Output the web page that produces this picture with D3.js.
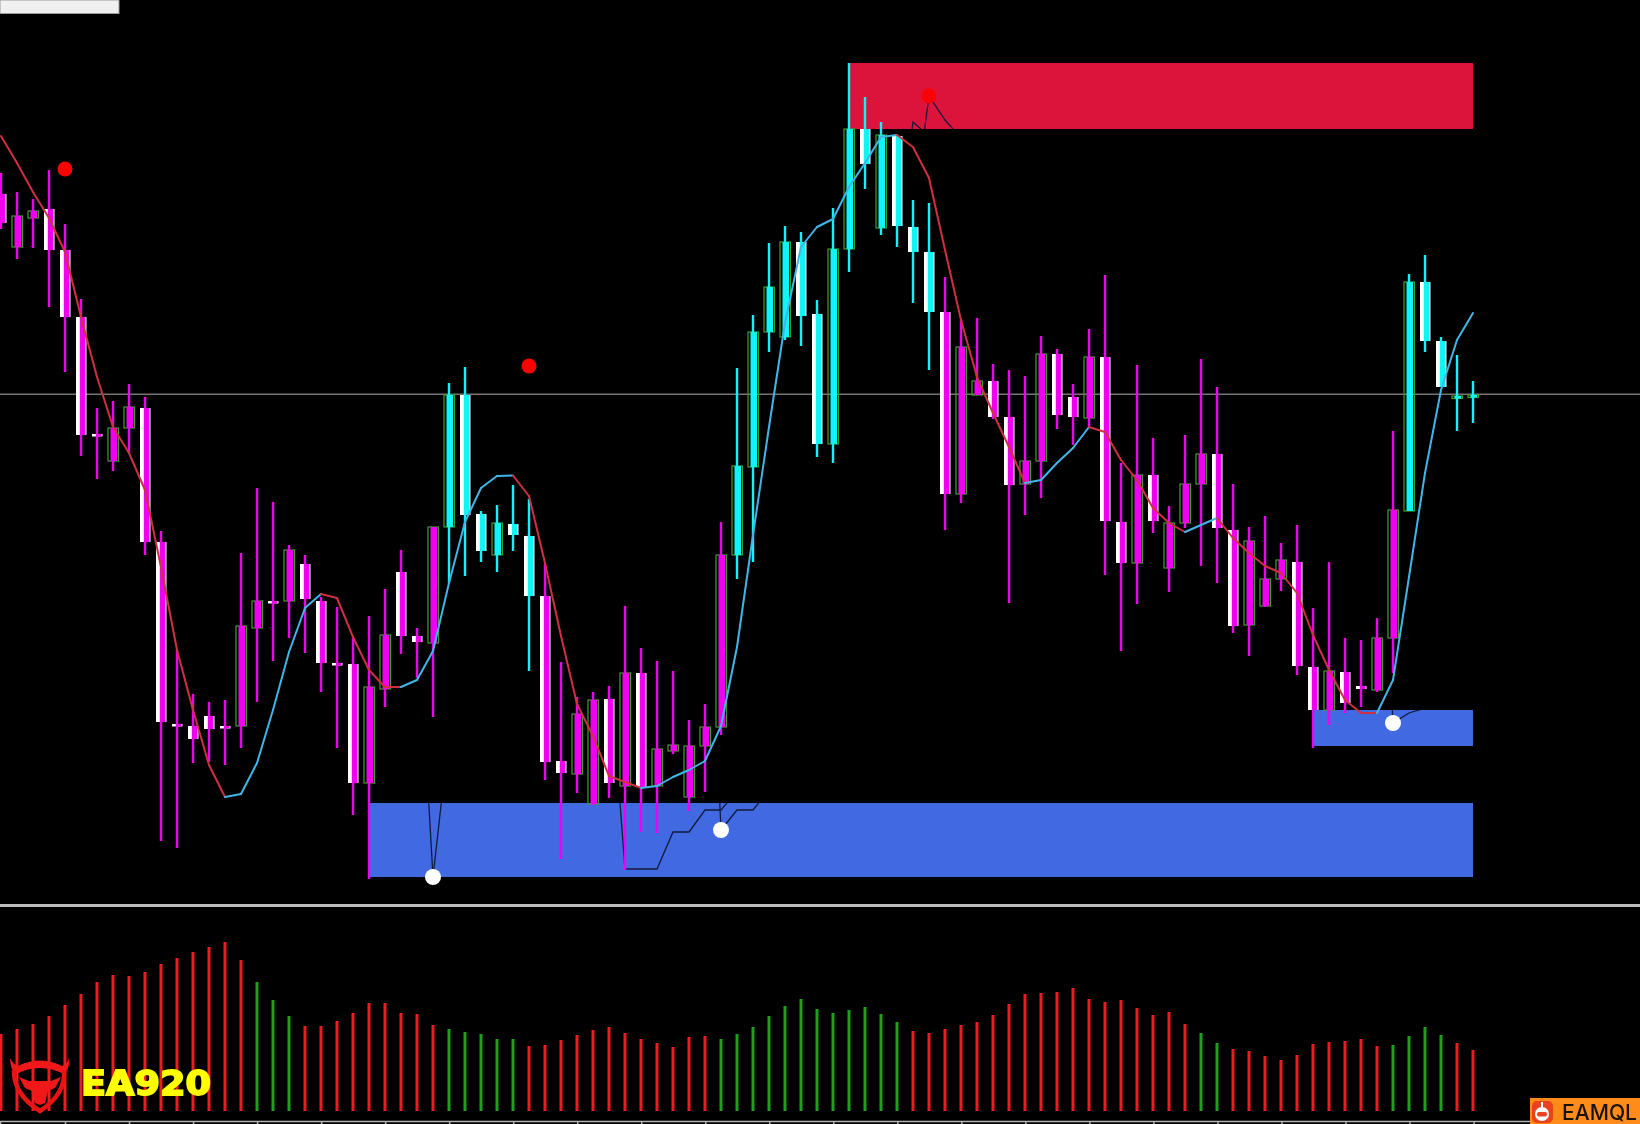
<html>
<head>
<meta charset="utf-8">
<title>EA920</title>
<style>
  body { margin: 0; background: #000; }
  svg { display: block; filter: blur(0.45px); }
</style>
</head>
<body>
<script src="https://cdn.jsdelivr.net/npm/d3@7/dist/d3.min.js"></script>
<script>

var width = 1640;
var height = 1124;

// candles, price in points
var opens = [686,633,662,671,630,563,446,419,452,472,338,156,154,164,154,154,252,279,279,316,279,217,216,97,191,308,244,237,353,485,
  366,325,356,344,284,119,106,76,181,94,207,94,129,83,134,153,325,413,548,543,638,566,436,631,751,652,744,653,628,568,
  386,485,499,463,396,419,526,483,462,523,358,317,405,312,357,396,426,350,255,274,301,318,213,170,208,194,190,242,369,598,539,483,484];
var closes = [657,664,669,630,563,445,444,452,473,338,158,154,141,151,153,254,279,278,330,281,217,215,97,193,245,244,238,353,485,365,
  329,357,345,284,118,107,166,180,97,207,93,131,135,134,153,325,414,548,593,638,564,436,631,751,716,745,654,628,568,386,
  533,499,463,395,419,526,465,463,523,359,317,405,359,357,396,426,352,254,339,301,320,214,170,209,177,191,242,370,598,539,493,484,485];
var highs = [707,688,681,710,656,581,472,479,496,483,349,230,186,178,180,327,392,378,335,325,283,273,242,264,291,330,252,353,497,513,
  369,375,395,381,316,218,183,188,194,274,232,219,209,160,176,358,512,565,637,654,648,580,672,817,783,758,745,680,677,603,
  560,562,516,510,504,544,531,496,551,605,417,515,442,374,445,521,493,396,353,364,337,355,272,318,242,240,262,449,606,625,543,525,499];
var lows = [651,621,632,573,508,424,401,409,427,325,39,32,117,118,115,132,178,219,242,227,188,132,65,1,173,226,202,163,297,304,
  318,308,329,209,100,21,87,75,82,10,48,47,126,69,88,145,301,318,528,540,534,423,417,608,691,645,633,577,510,350,
  377,485,461,277,365,382,451,435,453,305,229,276,347,288,352,314,297,247,224,273,289,205,132,155,167,173,188,207,369,528,493,449,457];

// candle index ranges where the inner body and wick change to the bullish colour
var bullPhases = [[28,33],[46,58],[88,92]];

// moving average, price in points
var maValues = [744,717,688,662,628,563,503,453,427,390,313,230,170,115,83,86,117,170,228,272,
  286,282,243,210,193,193,200,229,297,358,392,404,404.5,384,317,244,176,144,104,98,
  92,94,103,110,119,154,233,345,453,557,633,653,661,693,717,743,745,733,702,630,
  560,503,467,433,397,400,417,432,453,448,420,400,372,357,348,355,362,342,327,314,
  307,287,245,210,180,167,167,200,303,407,490,540,567];

// supply and demand zones
var zoneStart = [53,23,82];
var zoneTop = [817,77,170];
var zoneBottom = [751,3,134];
var zoneKind = ["supply","demand","demand"];

// stop line pieces, only seen where they cross a zone
var stopIndex = [[26,27,28],[38,39,40,41,42,43,44,45,46],[44,45,46,47,48],[56,57,57.7,58,59,60],[86,87,88,89]];
var stopValues = [[283,3,146],[222,11,11,11,48,48,70,70,89],[400,50,70,70,90],[640,758,748,784,760,742],[480,157,167,172]];

// signal dots
var sellIndex = [4,33,58];
var sellValues = [711,514,784];
var buyIndex = [27,45,87];
var buyValues = [3,50,157];

var priceLine = 485.7;

// lower panel
var histValues = [77,82,87,95,106,117,129,136,135,139,147,153,159,164,169,151,129,111,95,85,
  85,90,98,108,108,98,97,86,82,79,77,72,72,65,66,71,76,81,84,78,
  72,68,64,74,75,72,77,84,95,105,112,102,98,101,104,97,89,80,78,82,
  86,89,96,107,117,118,119,123,112,109,111,103,96,99,87,78,68,62,60,55,
  51,56,67,69,70,72,65,66,75,84,76,68,61];
var greenRanges = [[16,18],[28,32],[45,56],[75,76],[87,90]];

var svg = d3.select("body").append("svg")
  .attr("width", width)
  .attr("height", height);

svg.append("rect").attr("width", width).attr("height", height).attr("fill", "#000");

var x = d3.scaleLinear().domain([0, 92]).range([1, 1473]);
var y = d3.scaleLinear().domain([0, 880]).range([880, 0]);
var h = d3.scaleLinear().domain([0, 200]).range([1111, 911]);

function inRanges(i, ranges) {
  return ranges.some(function(r) { return i >= r[0] && i <= r[1]; });
}

// little white box top left
svg.append("rect").attr("x", 0).attr("y", 0).attr("width", 119).attr("height", 13.5)
  .attr("fill", "#f0f0f0").attr("stroke", "#9a9a9a").attr("stroke-width", 1);

// zones
svg.selectAll(".zone").data(zoneStart).enter().append("rect")
  .attr("class", "zone")
  .attr("x", function(d) { return x(d) + 1; })
  .attr("y", function(d, i) { return y(zoneTop[i]); })
  .attr("width", function(d) { return x(92) - x(d) - 1; })
  .attr("height", function(d, i) { return y(zoneBottom[i]) - y(zoneTop[i]); })
  .attr("fill", function(d, i) { return zoneKind[i] == "supply" ? "#dc143c" : "#4169e1"; });

// stop lines are clipped to the zones
var clip = svg.append("clipPath").attr("id", "zoneClip");
clip.selectAll("rect").data(zoneStart).enter().append("rect")
  .attr("x", function(d) { return x(d); })
  .attr("y", function(d, i) { return y(zoneTop[i]); })
  .attr("width", function(d) { return x(92) - x(d); })
  .attr("height", function(d, i) { return y(zoneBottom[i]) - y(zoneTop[i]); });

var stopLine = d3.line()
  .x(function(d) { return x(d[0]); })
  .y(function(d) { return y(d[1]); });

svg.append("g").attr("clip-path", "url(#zoneClip)")
  .selectAll("path").data(stopIndex).enter().append("path")
  .attr("d", function(d, k) { return stopLine(d3.zip(d, stopValues[k])); })
  .attr("fill", "none")
  .attr("stroke", "#141a3c")
  .attr("stroke-width", 1.3);

// price line
svg.append("line")
  .attr("x1", 0).attr("x2", width)
  .attr("y1", y(priceLine)).attr("y2", y(priceLine))
  .attr("stroke", "#747474").attr("stroke-width", 1.5);

// candles
var candles = svg.append("g").selectAll("g").data(opens).enter().append("g");

function bodyTop(d, i) { return y(Math.max(d, closes[i])); }
function bodyHeight(d, i) { return Math.max(2.5, y(Math.min(d, closes[i])) - y(Math.max(d, closes[i]))); }
function isUp(d, i) { return closes[i] > d; }
function bullColor(d, i) { return inRanges(i, bullPhases) ? "#0ff5f5" : "#f000f0"; }

candles.append("rect")
  .attr("x", function(d, i) { return x(i) - 5; })
  .attr("y", bodyTop)
  .attr("width", 10.5)
  .attr("height", bodyHeight)
  .attr("fill", function(d, i) { return isUp(d, i) ? "none" : "#fff"; })
  .attr("stroke", function(d, i) { return isUp(d, i) ? "#3f9f2c" : "none"; })
  .attr("stroke-width", 1.2);

candles.append("line")
  .attr("x1", function(d, i) { return x(i); })
  .attr("x2", function(d, i) { return x(i); })
  .attr("y1", function(d, i) { return y(highs[i]); })
  .attr("y2", function(d, i) { return y(lows[i]); })
  .attr("stroke", bullColor)
  .attr("stroke-width", 2.4);

candles.append("rect")
  .attr("x", function(d, i) { return isUp(d, i) ? x(i) - 2.5 : x(i) - 1; })
  .attr("y", bodyTop)
  .attr("width", function(d, i) { return isUp(d, i) ? 6.5 : 5.5; })
  .attr("height", bodyHeight)
  .attr("fill", bullColor);

// moving average, one segment per bar, blue going up and red going down
svg.append("g").selectAll("line").data(d3.pairs(maValues)).enter().append("line")
  .attr("x1", function(d, i) { return x(i); })
  .attr("x2", function(d, i) { return x(i + 1); })
  .attr("y1", function(d) { return y(d[0]); })
  .attr("y2", function(d) { return y(d[1]); })
  .attr("stroke", function(d) { return d[1] > d[0] ? "#3fb6e8" : "#cf3040"; })
  .attr("stroke-width", 2)
  .attr("stroke-linecap", "round");

// dots
svg.selectAll(".sell").data(sellIndex).enter().append("circle")
  .attr("class", "sell")
  .attr("cx", function(d) { return x(d); })
  .attr("cy", function(d, i) { return y(sellValues[i]); })
  .attr("r", 7.5)
  .attr("fill", "#ff0000");

svg.selectAll(".buy").data(buyIndex).enter().append("circle")
  .attr("class", "buy")
  .attr("cx", function(d) { return x(d); })
  .attr("cy", function(d, i) { return y(buyValues[i]); })
  .attr("r", 8)
  .attr("fill", "#fff");

// panel separator
svg.append("rect").attr("x", 0).attr("y", 904).attr("width", width).attr("height", 3).attr("fill", "#bcbcbc");

// histogram
svg.append("g").selectAll("line").data(histValues).enter().append("line")
  .attr("x1", function(d, i) { return x(i); })
  .attr("x2", function(d, i) { return x(i); })
  .attr("y1", h(0))
  .attr("y2", function(d) { return h(d); })
  .attr("stroke", function(d, i) { return inRanges(i, greenRanges) ? "#1f9e1f" : "#ee1c22"; })
  .attr("stroke-width", 3);

// time axis at the bottom, no labels in this crop
var timeAxis = d3.axisBottom(x.copy().domain([-0.0625, 102.4]).range([0, width]))
  .tickValues(d3.range(4, 100, 4))
  .tickSize(3)
  .tickFormat("");

svg.append("g")
  .attr("transform", "translate(0,1121)")
  .call(timeAxis)
  .call(function(g) {
    g.selectAll("path,line").attr("stroke", "#b4b4b4").attr("stroke-width", 1.5);
  });

// EA920 logo
var logo = svg.append("g");
logo.append("path")
  .attr("d", "M10 1058 Q10 1069 16 1074 Q40 1062 64 1074 Q70 1069 69 1058 Q68 1063 62 1066 Q40 1055 18 1066 Q12 1063 10 1058 Z")
  .attr("fill", "#f01818");
logo.append("path")
  .attr("d", "M14 1070 Q13 1094 40 1111 Q66 1094 64 1070")
  .attr("fill", "none").attr("stroke", "#e81414").attr("stroke-width", 4.5);
logo.append("path")
  .attr("d", "M19 1077 L29 1081 L51 1081 L61 1077 L55 1088 L48 1091 L45 1103 L40 1105 L35 1103 L32 1091 L25 1088 Z")
  .attr("fill", "#f01818");

svg.append("text")
  .attr("x", 81).attr("y", 1095)
  .attr("font-family", "'DejaVu Sans'")
  .attr("font-weight", "bold")
  .attr("font-size", 34)
  .attr("textLength", 130)
  .attr("lengthAdjust", "spacingAndGlyphs")
  .attr("fill", "#ffff00")
  .attr("stroke", "#ffff00")
  .attr("stroke-width", 1.8)
  .text("EA920");

// EAMQL badge
svg.append("rect").attr("x", 1530).attr("y", 1098).attr("width", 110).attr("height", 26).attr("fill", "#ff8c1a");
svg.append("rect").attr("x", 1532).attr("y", 1101).attr("width", 21).attr("height", 22).attr("rx", 5).attr("fill", "#e8431c");
svg.append("circle").attr("cx", 1542).attr("cy", 1114).attr("r", 7).attr("fill", "#fff");
svg.append("rect").attr("x", 1541).attr("y", 1102).attr("width", 2).attr("height", 5).attr("fill", "#fff");
svg.append("rect").attr("x", 1537).attr("y", 1112).attr("width", 10).attr("height", 4.5).attr("rx", 2).attr("fill", "#e8431c");

svg.append("text")
  .attr("x", 1562).attr("y", 1120)
  .attr("font-family", "Inter")
  .attr("font-weight", 500)
  .attr("font-size", 21)
  .attr("textLength", 75)
  .attr("lengthAdjust", "spacingAndGlyphs")
  .attr("fill", "#1a1208")
  .text("EAMQL");

</script>
</body>
</html>
